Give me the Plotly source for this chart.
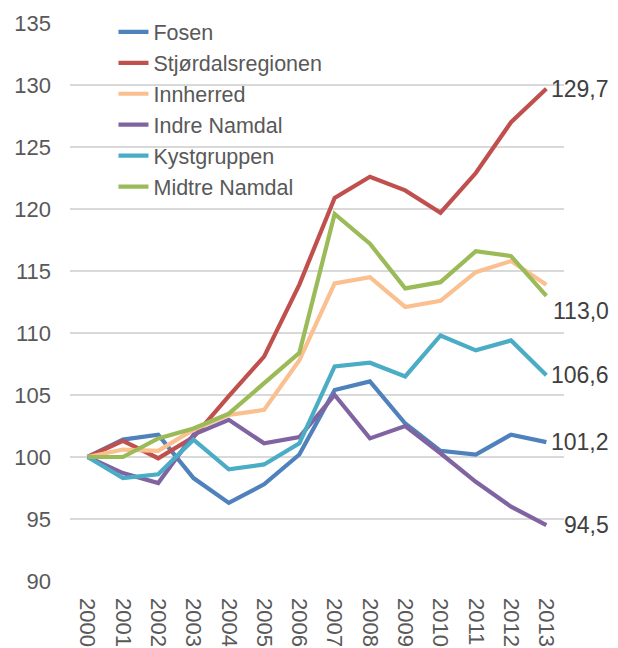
import plotly.graph_objects as go

years = [str(y) for y in range(2000, 2014)]

series_names = ["Fosen", "Stjørdalsregionen", "Innherred", "Indre Namdal", "Kystgruppen", "Midtre Namdal"]

fosen = [100, 101.4, 101.8, 98.3, 96.3, 97.8, 100.2, 105.4, 106.1, 102.7, 100.5, 100.2, 101.8, 101.2]
stjordal = [100, 101.3, 99.9, 101.6, 104.9, 108.1, 113.9, 120.9, 122.6, 121.5, 119.7, 122.9, 127.0, 129.7]
innherred = [100, 100.6, 100.5, 102.2, 103.4, 103.8, 107.8, 114.0, 114.5, 112.1, 112.6, 114.9, 115.8, 113.9]
indre_namdal = [100, 98.7, 97.9, 101.8, 103.0, 101.1, 101.6, 105.0, 101.5, 102.5, 100.3, 98.0, 96.0, 94.5]
kystgruppen = [100, 98.3, 98.6, 101.4, 99.0, 99.4, 101.1, 107.3, 107.6, 106.5, 109.8, 108.6, 109.4, 106.6]
midtre_namdal = [100, 100.0, 101.5, 102.3, 103.5, 105.9, 108.4, 119.6, 117.2, 113.6, 114.1, 116.6, 116.2, 113.0]

all_values = [fosen, stjordal, innherred, indre_namdal, kystgruppen, midtre_namdal]
colors = ["#4F81BD", "#C0504D", "#FAC08F", "#8064A2", "#4BACC6", "#9BBB59"]

# end labels: which series get a label and vertical offset (px)
labelled = {"Stjørdalsregionen": 0, "Midtre Namdal": -15, "Kystgruppen": 0, "Fosen": 0, "Indre Namdal": 0}

y_ticks = [90, 95, 100, 105, 110, 115, 120, 125, 130, 135]

fig = go.Figure()
for i, (name, vals, col) in enumerate(zip(series_names, all_values, colors)):
    fig.add_trace(go.Scatter(
        x=years, y=vals, name=name, mode="lines",
        line=dict(color=col, width=4.2),
    ))

last_idx = len(years) - 1
annotations = []
for name, vals in zip(series_names, all_values):
    if name in labelled:
        annotations.append(dict(
            x=last_idx, y=vals[-1], xref="x", yref="y",
            text=f"{vals[-1]:.1f}".replace(".", ","),
            showarrow=False, xanchor="right", yanchor="middle",
            xshift=65, yshift=labelled[name],
            font=dict(family="Liberation Sans, Arial, sans-serif", size=23, color="#404040"),
        ))

# page body adds an 8px offset, so the figure is 8px smaller than the window
fig.update_layout(
    width=610, height=640,
    margin=dict(l=61.5, r=54.4, t=15, b=67, autoexpand=False),
    paper_bgcolor="white", plot_bgcolor="white",
    font=dict(family="Liberation Sans, Arial, sans-serif", size=22, color="#595959"),
    showlegend=True,
    legend=dict(
        x=0.088, y=1.0208, xanchor="left", yanchor="top",
        bgcolor="rgba(0,0,0,0)", borderwidth=0,
        font=dict(size=21.5, color="#595959"),
        tracegroupgap=0,
    ),
    annotations=annotations,
)
fig.update_xaxes(
    type="category", range=[-0.5, 13.5], automargin=False,
    showgrid=False, zeroline=False, showline=False,
    tickangle=90, ticks="", ticklabelstandoff=16,
    tickfont=dict(size=22, color="#595959"),
)
fig.update_yaxes(
    range=[90, 135], tickvals=y_ticks, automargin=False,
    showgrid=True, gridcolor="#D9D9D9", gridwidth=1.5,
    zeroline=False, showline=False, ticks="",
    ticklabelstandoff=18,
    tickfont=dict(size=22, color="#595959"),
)

fig.write_html("out.html")
